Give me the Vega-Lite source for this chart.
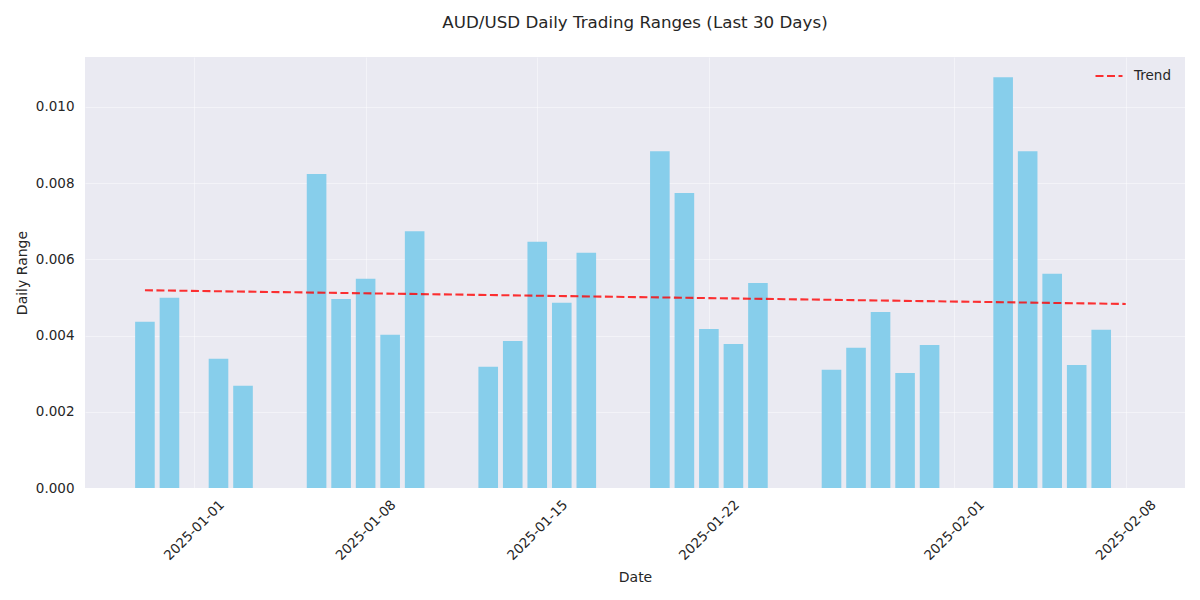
{
  "$schema": "https://vega.github.io/schema/vega-lite/v6.json",
  "width": 1100,
  "height": 431,
  "autosize": {"type": "none"},
  "padding": {"left": 85, "top": 57, "right": 15, "bottom": 112},
  "background": "white",
  "title": {
    "text": "AUD/USD Daily Trading Ranges (Last 30 Days)",
    "font": "DejaVu Sans",
    "fontSize": 16.7,
    "fontWeight": "normal",
    "color": "#262626",
    "offset": 25
  },
  "config": {
    "view": {"fill": "#EAEAF2", "stroke": null},
    "axis": {
      "labelFont": "DejaVu Sans",
      "titleFont": "DejaVu Sans",
      "labelFontSize": 13.5,
      "titleFontSize": 14,
      "titleFontWeight": "normal",
      "labelColor": "#262626",
      "titleColor": "#262626",
      "domain": false,
      "ticks": false,
      "tickSize": 0,
      "gridColor": "white",
      "gridOpacity": 0.45,
      "gridWidth": 1
    },
    "legend": {
      "labelFont": "DejaVu Sans",
      "labelFontSize": 13.5,
      "labelColor": "#262626"
    }
  },
  "datasets": {
    "ranges": [
      {"date": "2024-12-30T00:00:00", "range": 0.00436},
      {"date": "2024-12-31T00:00:00", "range": 0.00499},
      {"date": "2025-01-02T00:00:00", "range": 0.00339},
      {"date": "2025-01-03T00:00:00", "range": 0.00268},
      {"date": "2025-01-06T00:00:00", "range": 0.00824},
      {"date": "2025-01-07T00:00:00", "range": 0.00496},
      {"date": "2025-01-08T00:00:00", "range": 0.00549},
      {"date": "2025-01-09T00:00:00", "range": 0.00402},
      {"date": "2025-01-10T00:00:00", "range": 0.00674},
      {"date": "2025-01-13T00:00:00", "range": 0.00318},
      {"date": "2025-01-14T00:00:00", "range": 0.00386},
      {"date": "2025-01-15T00:00:00", "range": 0.00646},
      {"date": "2025-01-16T00:00:00", "range": 0.00486},
      {"date": "2025-01-17T00:00:00", "range": 0.00617},
      {"date": "2025-01-20T00:00:00", "range": 0.00884},
      {"date": "2025-01-21T00:00:00", "range": 0.00774},
      {"date": "2025-01-22T00:00:00", "range": 0.00417},
      {"date": "2025-01-23T00:00:00", "range": 0.00378},
      {"date": "2025-01-24T00:00:00", "range": 0.00538},
      {"date": "2025-01-27T00:00:00", "range": 0.0031},
      {"date": "2025-01-28T00:00:00", "range": 0.00368},
      {"date": "2025-01-29T00:00:00", "range": 0.00462},
      {"date": "2025-01-30T00:00:00", "range": 0.00302},
      {"date": "2025-01-31T00:00:00", "range": 0.00375},
      {"date": "2025-02-03T00:00:00", "range": 0.01078},
      {"date": "2025-02-04T00:00:00", "range": 0.00884},
      {"date": "2025-02-05T00:00:00", "range": 0.00562},
      {"date": "2025-02-06T00:00:00", "range": 0.00323},
      {"date": "2025-02-07T00:00:00", "range": 0.00415}
    ],
    "trend": [
      {"date": "2024-12-30T00:00:00", "value": 0.00519, "series": "Trend"},
      {"date": "2025-02-08T00:00:00", "value": 0.00483, "series": "Trend"}
    ]
  },
  "layer": [
    {
      "data": {"name": "ranges"},
      "mark": {"type": "bar", "color": "#87CEEB", "size": 19.6},
      "encoding": {
        "x": {
          "field": "date",
          "type": "temporal",
          "title": "Date",
          "scale": {
            "domain": [
              {"year": 2024, "month": 12, "date": 27, "hours": 13, "minutes": 20},
              {"year": 2025, "month": 2, "date": 10, "hours": 10, "minutes": 0}
            ],
            "padding": 0
          },
          "axis": {
            "values": [
              {"year": 2025, "month": 1, "date": 1},
              {"year": 2025, "month": 1, "date": 8},
              {"year": 2025, "month": 1, "date": 15},
              {"year": 2025, "month": 1, "date": 22},
              {"year": 2025, "month": 2, "date": 1},
              {"year": 2025, "month": 2, "date": 8}
            ],
            "format": "%Y-%m-%d",
            "labelAngle": -45,
            "labelAlign": "center",
            "labelBaseline": "middle",
            "labelPadding": 42,
            "titlePadding": 8
          }
        },
        "y": {
          "field": "range",
          "type": "quantitative",
          "title": "Daily Range",
          "scale": {"domain": [0, 0.01131], "nice": false, "zero": true},
          "axis": {
            "values": [0, 0.002, 0.004, 0.006, 0.008, 0.01],
            "format": ".3f",
            "labelPadding": 11,
            "titlePadding": 6
          }
        }
      }
    },
    {
      "data": {"name": "trend"},
      "mark": {"type": "line", "strokeWidth": 2.1, "strokeDash": [8, 3.5], "opacity": 0.8},
      "encoding": {
        "x": {"field": "date", "type": "temporal"},
        "y": {"field": "value", "type": "quantitative"},
        "color": {
          "field": "series",
          "type": "nominal",
          "scale": {"domain": ["Trend"], "range": ["#ff0000"]},
          "legend": {
            "title": null,
            "orient": "none",
            "legendX": 1009,
            "legendY": 4,
            "symbolType": "stroke",
            "symbolSize": 729,
            "symbolStrokeWidth": 2.1,
            "symbolDash": [8, 3.5],
            "symbolOpacity": 0.8,
            "labelOffset": 10,
            "padding": 0
          }
        }
      }
    }
  ]
}
